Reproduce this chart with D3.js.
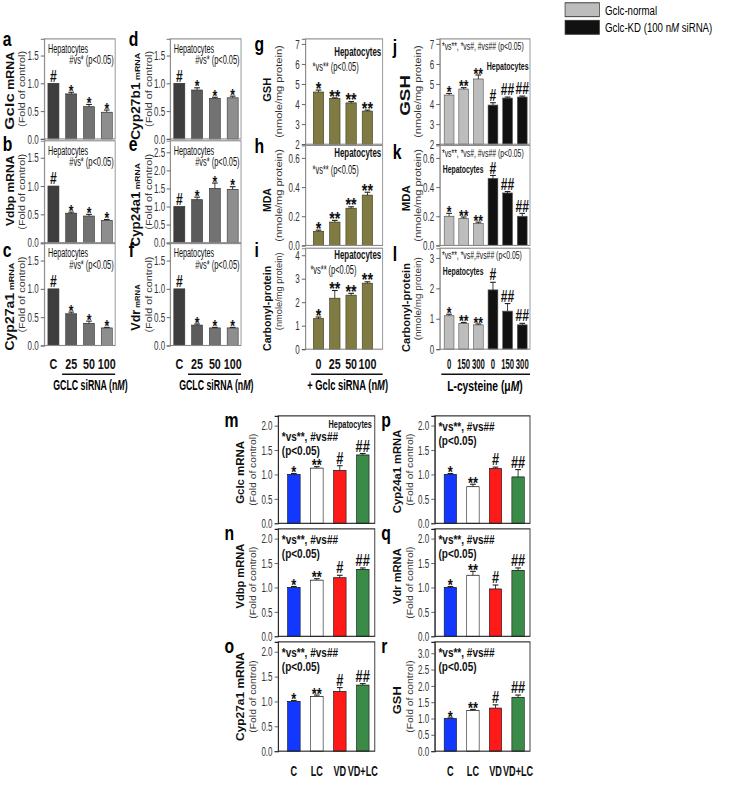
<!DOCTYPE html>
<html><head><meta charset="utf-8">
<script src="https://cdn.jsdelivr.net/npm/d3@7"></script>
<style>
html,body{margin:0;padding:0;background:#fff;}
svg{display:block;font-family:"Liberation Sans",Arial,sans-serif;}
</style></head>
<body><svg id="c" width="741" height="791" viewBox="0 0 1036 854" preserveAspectRatio="none"></svg>
<script>
// ---------- DATA ----------
const siCats = ["C","25","50","100"];
const gclcVals = [1.0,0.81,0.58,0.48],  gclcErr = [0,0.03,0.04,0.04];
const vdbpVals = [1.0,0.52,0.47,0.39],  vdbpErr = [0,0.02,0.03,0.02];
const cyp27a1Vals = [1.0,0.56,0.39,0.31], cyp27a1Err = [0,0.03,0.04,0.01];
const cyp27b1Vals = [1.0,0.88,0.73,0.74], cyp27b1Err = [0,0.04,0.02,0.03];
const cyp24a1Vals = [1.0,1.19,1.5,1.47], cyp24a1Err = [0,0.07,0.15,0.08];
const vdrVals = [1.0,0.36,0.31,0.31],   vdrErr = [0,0.02,0.01,0.01];
const siSyms = ["#","*","*","*"];

const gclcCats = ["0","25","50","100"];
const gshVals = [4.6,4.28,4.06,3.65], gshErr = [0.1,0.03,0.07,0.05];
const mdaVals = [0.095,0.16,0.255,0.345], mdaErr = [0.01,0.012,0.01,0.02];
const carbVals = [1.3,2.17,2.3,2.81], carbErr = [0.07,0.33,0.08,0.06];
const gclcSyms = ["*","**","**","**"];

const lcCats = ["0","150","300","0 ","150 ","300 "];
const lcGroup = ["normal","normal","normal","kd","kd","kd"];
const gshLcVals = [4.45,4.75,5.25,3.95,4.3,4.35], gshLcErr = [0.08,0.07,0.2,0.12,0.05,0.05];
const mdaLcVals = [0.2,0.185,0.15,0.46,0.36,0.2], mdaLcErr = [0.02,0.01,0.01,0.02,0.01,0.02];
const carbLcVals = [1.1,0.85,0.8,1.95,1.25,0.8], carbLcErr = [0.05,0.03,0.03,0.25,0.25,0.05];
const lcSyms = ["*","**","**","#","##","##"];

const vdCats = ["C","LC","VD","VD+LC"];
const mGclc = [1.0,1.13,1.08,1.4],   mGclcErr = [0.02,0.03,0.1,0.03];
const nVdbp = [1.0,1.15,1.2,1.37],   nVdbpErr = [0.02,0.03,0.05,0.03];
const oCyp27a1 = [1.0,1.1,1.2,1.33], oCyp27a1Err = [0.02,0.03,0.08,0.03];
const pCyp24a1 = [1.0,0.75,1.12,0.95], pCyp24a1Err = [0.02,0.05,0.03,0.15];
const qVdr = [1.0,1.25,0.97,1.35],   qVdrErr = [0.02,0.08,0.08,0.05];
const rGsh = [1.0,1.25,1.32,1.65],   rGshErr = [0.02,0.03,0.1,0.07];
const vdSyms = ["*","**","#","##"];

const legendLabels = ["Gclc-normal","Gclc-KD (100 nM siRNA)"];

// ---------- STYLE ----------
const grayBars = ["#3e3e3e","#5c5c5c","#727272","#8e8e8e"];
const olive = "#7f7b42";
const lcColors = {normal:"#bdbdbd", kd:"#111111"};
const vdColors = ["#1238ff","#ffffff","#ff1a1a","#3a8a48"];
const svg = d3.select("#c");

function condense(sel,k){
  sel.each(function(){ const x=+(this.getAttribute("x")||0);
    this.setAttribute("transform",`translate(${x},0) scale(${k},1) translate(${-x},0)`); });
  return sel;
}
function panel(o){
  const g = svg.append("g");
  const x = d3.scaleBand().domain(o.cats).range([o.x0+o.padL, o.x1-o.padR]).paddingInner(o.pad);
  const y = d3.scaleLinear().domain(o.domain).range([o.y1, o.y0]);
  g.selectAll("rect.bar").data(o.cats).enter().append("rect")
    .attr("x", d=>x(d)).attr("width", x.bandwidth())
    .attr("y", (d,i)=>y(o.vals[i])).attr("height",(d,i)=>y(o.domain[0])-y(o.vals[i]))
    .attr("fill",(d,i)=>o.colors[i]).attr("stroke",o.barStroke||"#333").attr("stroke-width",0.8);
  o.cats.forEach((d,i)=>{
    const e=o.errs[i]; if(!e) return;
    const cx=x(d)+x.bandwidth()/2, yt=y(o.vals[i]+e), yb=y(o.vals[i]);
    g.append("line").attr("x1",cx).attr("x2",cx).attr("y1",yb).attr("y2",yt).attr("stroke","#222").attr("stroke-width",1.2);
    g.append("line").attr("x1",cx-4).attr("x2",cx+4).attr("y1",yt).attr("y2",yt).attr("stroke","#222").attr("stroke-width",1.2);
  });
  o.cats.forEach((d,i)=>{
    const s=o.syms[i]; const cx=x(d)+x.bandwidth()/2; const yt=y(o.vals[i]+(o.errs[i]||0));
    const star = s.indexOf("*")>=0;
    g.append("text").attr("x",cx).attr("y", star? yt+5 : yt-2).attr("text-anchor","middle")
      .attr("font-weight","bold").attr("font-size",o.symSize||17).attr("fill","#111").text(s);
  });
  g.append("rect").attr("x",o.x0).attr("y",o.y0).attr("width",o.x1-o.x0).attr("height",o.y1-o.y0)
    .attr("fill","none").attr("stroke",o.frame||"#8a8a8a").attr("stroke-width",1.2);
  const ax = d3.axisLeft(y).tickValues(o.ticks).tickSize(5).tickPadding(o.tickPad||3).tickFormat(o.fmt||(d=>d));
  const ag = g.append("g").attr("transform",`translate(${o.x0},0)`).call(ax);
  ag.select(".domain").attr("stroke",o.frame||"#8a8a8a").attr("stroke-width",1.2);
  ag.selectAll(".tick line").attr("stroke","#444");
  ag.selectAll("text").attr("font-size",o.tickSize||14).attr("fill","#333").attr("font-family","'Liberation Sans',Arial,sans-serif");
  condense(ag.selectAll("text"),0.8);
  return {x,y,g};
}
function vtitle(cx, cy, parts, len){
  const t = svg.append("text").attr("transform",`translate(${cx},${cy}) rotate(-90)`).attr("text-anchor","middle");
  parts.forEach(p=>{ t.append("tspan").attr("font-size",p.s).attr("font-weight",p.b?"bold":"normal")
    .attr("fill",p.c||"#111").text(p.t); });
  if(len){ const w=t.node().getComputedTextLength(); const k=len/w;
    t.attr("transform",`translate(${cx},${cy}) rotate(-90) scale(${k},1)`); }
}
function label(x,y,t,size){ svg.append("text").attr("x",x).attr("y",y).attr("font-size",size||22).attr("font-weight","bold").text(t); }
function txt(x,y,t,opt){ opt=opt||{};
  const s = svg.append("text").attr("x",x).attr("y",y).attr("font-size",opt.s||11).attr("font-weight",opt.b?"bold":"normal")
   .attr("text-anchor",opt.a||"start").attr("fill",opt.c||"#111").text(t);
  if(opt.k) condense(s,opt.k);
  return s; }
function mtext(x,y,size,parts,k){
  const t=svg.append("text").attr("x",x).attr("y",y).attr("text-anchor","middle").attr("font-size",size).attr("font-weight","bold");
  parts.forEach(p=>{ const s=t.append("tspan").text(p.t); if(p.i) s.attr("font-style","italic"); });
  if(k) condense(t,k);
}
const fold = (cx,cy,len)=>vtitle(cx,cy,[{t:"(Fold of control)",s:13,c:"#333"}],len);
const nmole = (cx,cy,len)=>vtitle(cx,cy,[{t:"(nmole/mg protein)",s:13,c:"#333"}],len);

// ---------- columns 1 & 2 (GCLC siRNA) ----------
const rows = [[42,150],[152,262],[263,373]];
const labY = [50,163,277];
const col1 = [62,161], col2=[238,337];
const siPanels = [
  {col:col1,row:0,vals:gclcVals,errs:gclcErr,lab:"a",cy:98,len:84,title:[{t:"Gclc",s:19,b:true},{t:" mRNA",s:14,b:true}]},
  {col:col1,row:1,vals:vdbpVals,errs:vdbpErr,lab:"b",cy:206,len:76,title:[{t:"Vdbp mRNA",s:16,b:true}]},
  {col:col1,row:2,vals:cyp27a1Vals,errs:cyp27a1Err,lab:"c",cy:331,len:95,title:[{t:"Cyp27a1",s:17,b:true},{t:" mRNA",s:11,b:true}]},
  {col:col2,row:0,vals:cyp27b1Vals,errs:cyp27b1Err,lab:"d",cy:104,len:94,title:[{t:"Cyp27b1",s:17,b:true},{t:" mRNA",s:11,b:true}]},
  {col:col2,row:1,vals:cyp24a1Vals,errs:cyp24a1Err,lab:"e",cy:221,len:90,dom:[0,2.82],ticks:[0,0.5,1,1.5,2,2.5],title:[{t:"Cyp24a1",s:17,b:true},{t:" mRNA",s:11,b:true}]},
  {col:col2,row:2,vals:vdrVals,errs:vdrErr,lab:"f",cy:332,len:50,title:[{t:"Vdr",s:18,b:true},{t:" mRNA",s:11,b:true}]},
];
siPanels.forEach(p=>{
  const [x0,x1]=p.col, [y0,y1]=rows[p.row];
  const isC1 = p.col===col1;
  panel({x0,x1,y0,y1,padL:5,padR:4,pad:0.38,cats:siCats,vals:p.vals,errs:p.errs,colors:grayBars,syms:siSyms,
    domain:p.dom||[0,1.8],ticks:p.ticks||[0,0.5,1,1.5],fmt:d3.format(".1f"),tickPad:isC1?3:2});
  label(x0-58, labY[p.row], p.lab);
  vtitle(x0-42, p.cy, p.title, p.len);
  fold(isC1? x0-27 : x0-26, (y0+y1)/2, 82);
  txt(x0+5,y0+15,"Hepatocytes",{s:13,k:0.78});
  txt(x1-2,y0+27,"#vs* (p<0.05)",{s:13,a:"end",k:0.8});
});
[col1,col2].forEach(c=>{
  const x = d3.scaleBand().domain(siCats).range([c[0]+5,c[1]-4]).paddingInner(0.38);
  siCats.forEach(d=>txt(x(d)+x.bandwidth()/2,398,d,{s:15,b:true,a:"middle"}));
  svg.append("line").attr("x1",x("25")-5).attr("x2",c[1]).attr("y1",404).attr("y2",404).attr("stroke","#111").attr("stroke-width",1.6);
  mtext((x("25")+c[1])/2,421,15,[{t:"GCLC siRNA (n"},{t:"M",i:true},{t:")"}],0.82);
});

// ---------- column 3 ----------
const col3=[427,535];
const c3rows=[[42,155.7],[157,265],[268,377]];
const c3 = [
  {vals:gshVals,errs:gshErr,dom:[2,7.25],ticks:[2,3,4,5,6,7],lab:"g",t1:"GSH",fmt:d3.format("d"),ly:55,cy:97,len:26,nl:100},
  {vals:mdaVals,errs:mdaErr,dom:[0,0.686],ticks:[0,0.2,0.4,0.6],lab:"h",t1:"MDA",fmt:d3.format(".1f"),ly:165,cy:216,len:26,nl:100},
  {vals:carbVals,errs:carbErr,dom:[0,4.3],ticks:[0,1,2,3,4],lab:"i",t1:"Carbonyl-protein",fmt:d3.format("d"),ly:278,cy:333,len:92,nl:84},
];
c3.forEach((p,r)=>{
  const [y0,y1]=c3rows[r];
  panel({x0:col3[0],x1:col3[1],y0,y1,padL:11,padR:14,pad:0.36,cats:gclcCats,vals:p.vals,errs:p.errs,colors:gclcCats.map(()=>olive),
    syms:gclcSyms,domain:p.dom,ticks:p.ticks,fmt:p.fmt,symSize:20,barStroke:"#3d3b1c"});
  vtitle(col3[0]-48,p.cy,[{t:p.t1,s:15,b:true}],p.len);
  nmole(col3[0]-33,(y0+y1)/2 + (r==2?-8:0),p.nl);
  label(356,p.ly,p.lab);
});
txt(533,60,"Hepatocytes",{s:13,b:true,a:"end",k:0.85});
txt(437,77,"*vs** (p<0.05)",{s:13,k:0.8});
txt(533,170,"Hepatocytes",{s:13,b:true,a:"end",k:0.85});
txt(437,188,"*vs** (p<0.05)",{s:13,k:0.8});
txt(533,280,"Hepatocytes",{s:13,b:true,a:"end",k:0.85});
txt(434,296,"*vs** (p<0.05)",{s:13,k:0.8});
{
  const x = d3.scaleBand().domain(gclcCats).range([col3[0]+11,col3[1]-14]).paddingInner(0.36);
  gclcCats.forEach(d=>txt(x(d)+x.bandwidth()/2,398,d,{s:15,b:true,a:"middle"}));
  svg.append("line").attr("x1",col3[0]+8).attr("x2",col3[1]).attr("y1",404).attr("y2",404).attr("stroke","#111").attr("stroke-width",1.6);
  mtext((col3[0]+col3[1])/2+5,421,15,[{t:"+ Gclc siRNA (n"},{t:"M",i:true},{t:")"}],0.87);
}

// ---------- column 4 (L-cysteine) ----------
const col4=[615,741];
const c4 = [
  {vals:gshLcVals,errs:gshLcErr,dom:[2,7.25],ticks:[2,3,4,5,6,7],lab:"j",t1:"GSH",fs:21,fmt:d3.format("d"),ann:"*vs**, *vs#, #vs## (p<0.05)",ly:58,cy:103,len:44,nl:100},
  {vals:mdaLcVals,errs:mdaLcErr,dom:[0,0.686],ticks:[0,0.2,0.4,0.6],lab:"k",t1:"MDA",fs:15,fmt:d3.format(".1f"),ann:"*vs**, *vs#, #vs## (p<0.05)",ly:172,cy:214,len:28,nl:100},
  {vals:carbLcVals,errs:carbLcErr,dom:[0,3.32],ticks:[0,1,2,3],lab:"l",t1:"Carbonyl-protein",fs:15,fmt:d3.format("d"),ann:"*vs**, *vs#,#vs## (p<0.05)",ly:282,cy:332,len:96,nl:90},
];
c4.forEach((p,r)=>{
  const [y0,y1]=c3rows[r];
  panel({x0:col4[0],x1:col4[1],y0,y1,padL:6,padR:4,pad:0.33,cats:lcCats,vals:p.vals,errs:p.errs,colors:lcGroup.map(g=>lcColors[g]),
    syms:lcSyms,domain:p.dom,ticks:p.ticks,fmt:p.fmt,symSize:17,barStroke:"#555"});
  vtitle(col4[0]-42,p.cy,[{t:p.t1,s:p.fs,b:true}],p.len);
  nmole(col4[0]-27,(y0+y1)/2,p.nl);
  label(549,p.ly,p.lab);
  txt(col4[0]+3,y0+12,p.ann,{s:12,k:0.8});
});
txt(739,76,"Hepatocytes",{s:12,b:true,a:"end",k:0.82});
txt(619,187,"Hepatocytes",{s:12,b:true,k:0.8});
txt(619,297,"Hepatocytes",{s:12,b:true,k:0.8});
{
  const x = d3.scaleBand().domain(lcCats).range([col4[0]+6,col4[1]-4]).paddingInner(0.33);
  lcCats.forEach(d=>txt(x(d)+x.bandwidth()/2,398,d.trim(),{s:15,b:true,a:"middle",k:0.72}));
  svg.append("line").attr("x1",col4[0]+2).attr("x2",col4[1]).attr("y1",404).attr("y2",404).attr("stroke","#111").attr("stroke-width",1.6);
  mtext((col4[0]+col4[1])/2,422,16,[{t:"L-cysteine (\u03bc"},{t:"M",i:true},{t:")"}],0.9);
}
// legend
legendLabels.forEach((l,i)=>{
  svg.append("rect").attr("x",790).attr("y",3+i*19).attr("width",48).attr("height",15)
    .attr("fill",i==0?lcColors.normal:lcColors.kd).attr("stroke","#333");
  const t=svg.append("text").attr("x",846).attr("y",16+i*19).attr("font-size",13.5);
  if(i==0) t.text(l); else { t.append("tspan").text("Gclc-KD (100 n"); t.append("tspan").attr("font-style","italic").text("M"); t.append("tspan").text(" siRNA)"); }
});

// ---------- bottom VD / LC panels ----------
const bcolL=[389,524], bcolR=[608,741];
const brows=[[449,565],[571,687],[693,811]];
const bp=[
  {col:bcolL,row:0,vals:mGclc,errs:mGclcErr,lab:"m",t:"Gclc mRNA",cy:510,len:68,dom:[0,2.2],ticks:[0,0.5,1,1.5,2],hep:true},
  {col:bcolL,row:1,vals:nVdbp,errs:nVdbpErr,lab:"n",t:"Vdbp mRNA",cy:622,len:70,dom:[0,2.2],ticks:[0,0.5,1,1.5,2]},
  {col:bcolL,row:2,vals:oCyp27a1,errs:oCyp27a1Err,lab:"o",t:"Cyp27a1 mRNA",cy:752,len:96,dom:[0,2.2],ticks:[0,0.5,1,1.5,2]},
  {col:bcolR,row:0,vals:pCyp24a1,errs:pCyp24a1Err,lab:"p",t:"Cyp24a1 mRNA",cy:509,len:90,dom:[0,2.2],ticks:[0,0.5,1,1.5,2]},
  {col:bcolR,row:1,vals:qVdr,errs:qVdrErr,lab:"q",t:"Vdr mRNA",cy:622,len:60,dom:[0,2.2],ticks:[0,0.5,1,1.5,2]},
  {col:bcolR,row:2,vals:rGsh,errs:rGshErr,lab:"r",t:"GSH",cy:756,len:30,dom:[0,3.35],ticks:[0,0.5,1,1.5,2,2.5,3]},
];
bp.forEach(p=>{
  const [x0,x1]=p.col,[y0,y1]=brows[p.row];
  panel({x0,x1,y0,y1,padL:13,padR:8,pad:0.45,cats:vdCats,vals:p.vals,errs:p.errs,colors:vdColors,syms:vdSyms,
    domain:p.dom,ticks:p.ticks,fmt:d3.format(".1f"),frame:"#222",barStroke:"#111",symSize:18});
  vtitle(x0-48,p.cy,[{t:p.t,s:16,b:true}],p.len);
  fold(x0-31,(y0+y1)/2,78);
  label(x0-75,y0+12,p.lab);
  if(p.hep){ txt(x1-4,y0+13,"Hepatocytes",{s:12,b:true,a:"end",k:0.85}); txt(x0+5,y0+27,"*vs**, #vs##",{s:14,b:true}); txt(x0+5,y0+42,"(p<0.05)",{s:14,b:true}); }
  else { txt(x0+5,y0+16,"*vs**, #vs##",{s:14,b:true}); txt(x0+5,y0+31,"(p<0.05)",{s:14,b:true}); }
});
[bcolL,bcolR].forEach(c=>{
  const x = d3.scaleBand().domain(vdCats).range([c[0]+13,c[1]-8]).paddingInner(0.45);
  vdCats.forEach(d=>txt(x(d)+x.bandwidth()/2,838,d,{s:15,b:true,a:"middle",k:0.85}));
});
</script></body></html>
